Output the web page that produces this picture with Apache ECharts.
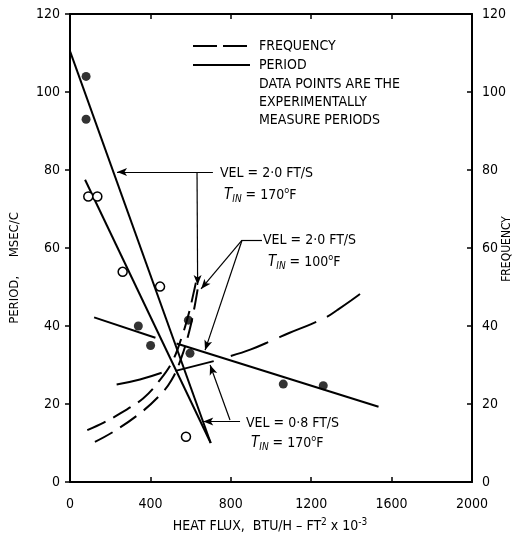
<!DOCTYPE html>
<html><head><meta charset="utf-8">
<script src="https://cdn.jsdelivr.net/npm/echarts@6/dist/echarts.min.js"></script>
<style>html,body{margin:0;padding:0;background:#fff}#c{width:512px;height:537px}</style>
</head><body><div id="c"></div>
<script>
// ---- data ----
const xTicks = [0, 400, 800, 1200, 1600, 2000];
const yTicks = [0, 20, 40, 60, 80, 100, 120];
// period lines (solid)
const periodLineA = [[0, 110.5], [700, 10]];
const periodLineB = [[75, 77.5], [700, 10]];
const periodLineC = [[120, 42.2], [425, 37]];
const periodLineD = [[530, 35.5], [1535, 19.3]];
const periodLineE = [[525, 28.5], [715, 31]];
const solidCurveF = [[232, 25], [348, 26.3], [456, 28]];
// frequency curves (dashed)
const freqCurve1 = [[86, 13.3], [170, 15.3], [250, 17.6], [365, 21.5], [448, 26.2], [510, 31], [555, 37], [590, 43], [615, 48.5], [630, 52]];
const freqCurve2 = [[124, 10.3], [216, 12.9], [348, 17.6], [448, 22.3], [506, 26.2], [555, 32], [595, 39], [620, 45], [640, 51]];
const freqCurve3 = [[800, 32.3], [900, 34], [1010, 36.4], [1090, 38.2], [1200, 40.5], [1280, 42.4], [1330, 44.1], [1400, 46.6], [1490, 50]];
// measured periods
const filledPoints = [[80, 104], [80, 93], [340, 40], [401, 35], [589, 41.5], [597, 33], [1061, 25.1], [1260, 24.7]];
const openPoints = [[91, 73.2], [136, 73.2], [262, 53.9], [448, 50.1], [577, 11.6]];
// annotation leader lines (data coordinates), arrow at the second point
const arrowLeaders = [
  [[711, 79.5], [234, 79.5]],
  [[632, 79.5], [635, 50.5]],
  [[856, 62], [652, 49.5]],
  [[856, 62], [672, 33.8]],
  [[846, 15.5], [663, 15.5]],
  [[796, 15.9], [697, 30]]
];
const plainLeaders = [
  [[856, 62], [955, 62]]
];
const legendTexts = ['FREQUENCY', 'PERIOD', 'DATA POINTS ARE THE', 'EXPERIMENTALLY', 'MEASURE PERIODS'];

// ---- chart ----
const FONT = "'Liberation Sans Narrow', 'DejaVu Sans Condensed', 'Liberation Sans', sans-serif";
const chart = echarts.init(document.getElementById('c'), null, {renderer: 'canvas'});

function axisCommon(inside) {
  return {
    axisLine: {show: true, onZero: false, lineStyle: {color: '#000', width: 2}},
    axisTick: {show: true, inside: inside, length: 5, lineStyle: {color: '#000', width: 1.5}},
    splitLine: {show: false}
  };
}
function lineSeries(data, dashed, smooth) {
  return {
    type: 'line', data: data, showSymbol: false, symbol: 'none', smooth: smooth || false,
    lineStyle: {color: '#000', width: 2, type: dashed || 'solid'}, silent: true, z: 3
  };
}
const ml = arrowLeaders.map(p => [{coord: p[0], symbol: 'none'}, {coord: p[1], symbol: 'arrow'}])
  .concat(plainLeaders.map(p => [{coord: p[0], symbol: 'none'}, {coord: p[1], symbol: 'none'}]));

const tin = function (val) {
  return '{t|T}{s|IN}{n| = ' + val + '}{sup|o}{n|F}';
};
const tinRich = {
  t: {fontFamily: FONT, fontSize: 15, fontStyle: 'italic', fill: '#000', verticalAlign: 'middle', lineHeight: 18},
  s: {fontFamily: FONT, fontSize: 10, fontStyle: 'italic', fill: '#000', verticalAlign: 'bottom', lineHeight: 10},
  n: {fontFamily: FONT, fontSize: 14, fill: '#000', verticalAlign: 'middle', lineHeight: 18},
  sup: {fontFamily: FONT, fontSize: 9, fill: '#000', verticalAlign: 'top', lineHeight: 10}
};
function txt(x, y, s, extra) {
  return Object.assign({type: 'text', x: x, y: y, silent: true,
    style: {text: s, fontFamily: FONT, fontSize: 14, fill: '#000', textVerticalAlign: 'middle'}}, extra || {});
}
function richTxt(x, y, s) {
  return {type: 'text', x: x, y: y, silent: true,
    style: {text: s, rich: tinRich, fontFamily: FONT, fontSize: 14, fill: '#000', textVerticalAlign: 'middle'}};
}

const graphics = [
  // legend samples
  {type: 'line', shape: {x1: 193, y1: 46, x2: 248, y2: 46}, style: {stroke: '#000', lineWidth: 2, lineDash: [24, 6]}, silent: true},
  {type: 'line', shape: {x1: 193, y1: 65, x2: 250, y2: 65}, style: {stroke: '#000', lineWidth: 2}, silent: true}
];
const legendY = [46, 65, 84, 102, 120];
legendTexts.forEach((t, i) => graphics.push(txt(259, legendY[i], t)));
graphics.push(txt(220, 173, 'VEL = 2·0 FT/S'));
graphics.push(richTxt(224, 195, tin('170')));
graphics.push(txt(263, 240, 'VEL = 2·0 FT/S'));
graphics.push(richTxt(268, 262, tin('100')));
graphics.push(txt(246, 423, 'VEL = 0·8 FT/S'));
graphics.push(richTxt(251, 443, tin('170')));
// axis titles
graphics.push({type: 'text', x: 15, y: 268, rotation: Math.PI / 2, silent: true,
  style: {text: 'PERIOD,     MSEC/C', fontFamily: FONT, fontSize: 13, fill: '#000', textAlign: 'center', textVerticalAlign: 'middle'}});
graphics.push({type: 'text', x: 507, y: 249, rotation: Math.PI / 2, silent: true,
  style: {text: 'FREQUENCY', fontFamily: FONT, fontSize: 12, fill: '#000', textAlign: 'center', textVerticalAlign: 'middle'}});
graphics.push({type: 'text', x: 270, y: 526, silent: true,
  style: {text: '{n|HEAT FLUX,  BTU/H – FT}{sup|2}{n| x 10}{sup|-3}', textAlign: 'center', textVerticalAlign: 'middle',
    rich: {n: {fontFamily: FONT, fontSize: 14, fill: '#000', verticalAlign: 'middle', lineHeight: 18},
           sup: {fontFamily: FONT, fontSize: 10, fill: '#000', verticalAlign: 'top', lineHeight: 10}}}});

const plain = v => String(v);
const option = {
  animation: false,
  backgroundColor: '#fff',
  grid: {left: 70, right: 40, top: 14, bottom: 55, containLabel: false},
  xAxis: [
    Object.assign(axisCommon(true), {type: 'value', min: xTicks[0], max: xTicks[xTicks.length - 1], interval: xTicks[1] - xTicks[0], position: 'bottom',
      axisLabel: {color: '#000', fontSize: 14, margin: 15, fontFamily: FONT, formatter: plain}}),
    Object.assign(axisCommon(true), {type: 'value', min: xTicks[0], max: xTicks[xTicks.length - 1], interval: xTicks[1] - xTicks[0], position: 'top',
      axisLabel: {show: false}})
  ],
  yAxis: [
    Object.assign(axisCommon(false), {type: 'value', min: yTicks[0], max: yTicks[yTicks.length - 1], interval: yTicks[1] - yTicks[0], position: 'left',
      axisLabel: {color: '#000', fontSize: 14, margin: 10, fontFamily: FONT, formatter: plain}}),
    Object.assign(axisCommon(true), {type: 'value', min: yTicks[0], max: yTicks[yTicks.length - 1], interval: yTicks[1] - yTicks[0], position: 'right',
      axisLabel: {color: '#000', fontSize: 14, margin: 10, fontFamily: FONT, formatter: plain}})
  ],
  series: [
    lineSeries(periodLineA),
    lineSeries(periodLineB),
    lineSeries(periodLineC),
    lineSeries(periodLineD),
    lineSeries(periodLineE),
    lineSeries(solidCurveF, 'solid', true),
    lineSeries(freqCurve1, [20, 9], 0.4),
    lineSeries(freqCurve2, [20, 9], 0.4),
    lineSeries(freqCurve3, [40, 12], 0.4),
    {type: 'scatter', data: filledPoints, symbol: 'circle', symbolSize: 9, itemStyle: {color: '#000'}, silent: true, z: 4},
    {type: 'scatter', data: openPoints, symbol: 'circle', symbolSize: 9, itemStyle: {color: '#fff', borderColor: '#000', borderWidth: 1.5, opacity: 1}, silent: true, z: 4},
    {type: 'line', data: [], silent: true,
      markLine: {silent: true, animation: false, symbolSize: [6, 10], label: {show: false},
        lineStyle: {color: '#000', width: 1.2, type: 'solid'}, emphasis: {disabled: true}, data: ml}}
  ],
  graphic: graphics
};
chart.setOption(option);
</script>
</body></html>
